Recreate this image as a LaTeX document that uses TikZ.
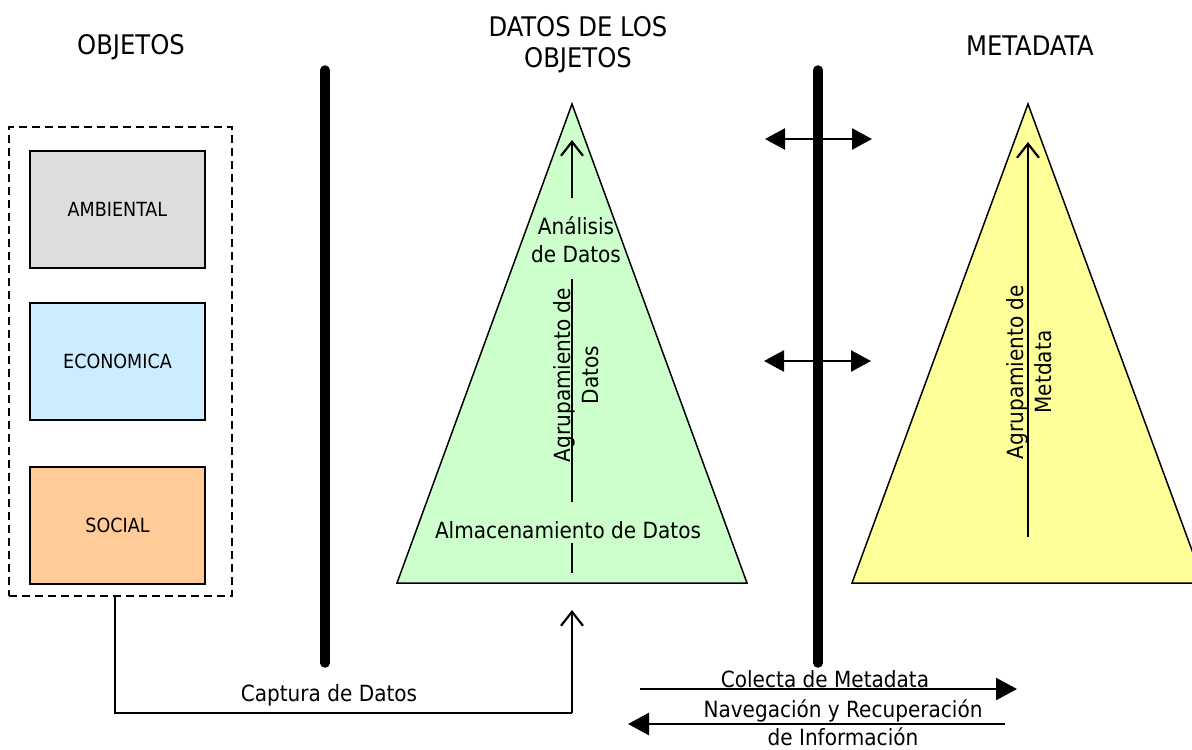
\documentclass[tikz,border=0pt]{standalone}
\usepackage{fontspec}
\setmainfont{DejaVu Sans Condensed}
\usetikzlibrary{arrows.meta}
\definecolor{ambgray}{HTML}{DDDDDD}
\definecolor{ecoblue}{HTML}{CCECFF}
\definecolor{socorange}{HTML}{FFCC99}
\definecolor{trigreen}{HTML}{CCFFCC}
\definecolor{triyellow}{HTML}{FFFF99}
\begin{document}
\begin{tikzpicture}[x=1pt,y=-1pt,
  every node/.style={inner sep=0pt, outer sep=0pt},
  titletxt/.style={font=\fontsize{27}{31}\selectfont, align=center},
  lbl/.style={font=\fontsize{22.3}{28}\selectfont, align=center},
  objbox/.style={draw=black, line width=1.5pt, minimum width=175pt, minimum height=117pt, font=\fontsize{19.5}{22}\selectfont},
  dashbox/.style={draw=black, line width=2.5pt, dash pattern=on 8pt off 5pt, minimum width=223pt, minimum height=469pt},
  barline/.style={line width=9.5pt, line cap=round},
  trishape/.style={draw=black, line width=1.5pt},
  thinln/.style={line width=1.6pt},
  openarrow/.style={line width=2.2pt, -{Straight Barb[length=14pt, width=22pt, line width=2.2pt]}},
  fillarrow/.style={line width=2.5pt, -{Triangle[length=21pt, width=22pt]}},
  dblarrow/.style={line width=2.5pt, {Triangle[length=20pt, width=21pt]}-{Triangle[length=20pt, width=21pt]}}
]
\useasboundingbox (0,0) rectangle (1192,750);
\clip (0,0) rectangle (1192,750);

% titles
\node[titletxt] (tobj) at (131,47) {OBJETOS};
\node[titletxt] (tdat) at (578,45) {DATOS DE LOS\\OBJETOS};
\node[titletxt] (tmeta) at (1030,46) {METADATA};

% object boxes
\node[dashbox] (objs) at (120.5,361.5) {};
\node[objbox, fill=ambgray] (amb) at (117.5,209.5) {AMBIENTAL};
\node[objbox, fill=ecoblue] (eco) at (117.5,361.5) {ECONOMICA};
\node[objbox, fill=socorange] (soc) at (117.5,525.5) {SOCIAL};

% separator bars
\coordinate (b1t) at (325,70);
\coordinate (b1b) at (325,663);
\coordinate (b2t) at (818,70);
\coordinate (b2b) at (818,663);
\draw[barline] (b1t) -- (b1b);
\draw[barline] (b2t) -- (b2b);

% triangles
\draw[trishape, fill=trigreen] (572,104) -- (747,583) -- (397,583) -- cycle;
\draw[trishape, fill=triyellow] (1028,104) -- (1204,583) -- (852,583) -- cycle;

% green triangle content
\coordinate (ga0) at (572,198);
\coordinate (ga1) at (572,140);
\draw[openarrow] (ga0) -- (ga1);
\node[lbl] (anal) at (576,240) {Análisis\\de Datos};
\coordinate (gl0) at (572,502);
\coordinate (gl1) at (572,279);
\draw[thinln] (gl0) -- (gl1);
\node[lbl, rotate=90] (agd) at (576,375) {Agrupamiento de\\Datos};
\node[lbl] (alm) at (568,530) {Almacenamiento de Datos};
\coordinate (gs0) at (572,543);
\coordinate (gs1) at (572,573);
\draw[thinln] (gs0) -- (gs1);

% yellow triangle content
\coordinate (ya0) at (1028,198);
\coordinate (ya1) at (1028,142);
\coordinate (yl0) at (1028,537);
\draw[thinln] (yl0) -- (ya0);
\draw[openarrow] (ya0) -- (ya1);
\node[lbl, rotate=90] (agm) at (1029,372) {Agrupamiento de\\Metdata};

% double arrows
\coordinate (d1l) at (765,139);
\coordinate (d1r) at (872,139);
\coordinate (d2l) at (764,361);
\coordinate (d2r) at (871,361);
\draw[dblarrow] (d1l) -- (d1r);
\draw[dblarrow] (d2l) -- (d2r);

% captura de datos
\coordinate (c0) at (115,596);
\coordinate (c1) at (115,713);
\coordinate (c2) at (572,713);
\coordinate (c3) at (572,610);
\draw[thinln] (c0) -- (c1) -- (c2);
\draw[openarrow] (c2) -- (c3);
\node[lbl] (cap) at (329,695) {Captura de Datos};

% colecta / navegacion
\coordinate (k0) at (640,689);
\coordinate (k1) at (1017,689);
\draw[fillarrow] (k0) -- (k1);
\node[lbl] (col) at (825,679) {Colecta de Metadata};
\coordinate (n0) at (1005,724);
\coordinate (n1) at (628,724);
\draw[fillarrow] (n0) -- (n1);
\node[lbl] (nav) at (843,723) {Navegación y Recuperación\\de Información};
\end{tikzpicture}
\end{document}
